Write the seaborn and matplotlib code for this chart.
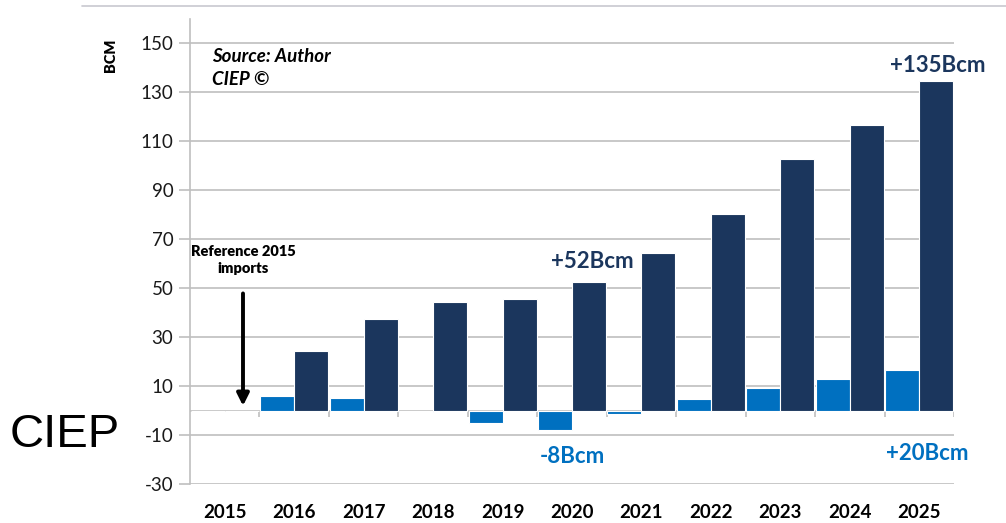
import matplotlib
matplotlib.use('Agg')
import matplotlib.pyplot as plt
import pandas as pd
import seaborn as sns

years = ['2015', '2016', '2017', '2018', '2019', '2020', '2021', '2022', '2023', '2024', '2025']
# yearly change vs 2015 (light) and cumulative import growth (dark)
change = [0, 5.8, 5.3, -0.7, -4.9, -8.0, -1.2, 4.9, 9.1, 12.7, 16.6]
imports = [0, 24.2, 37.6, 44.4, 45.4, 52.6, 64.5, 80.4, 102.9, 116.7, 134.7]
yticks = [-30, -10, 10, 30, 50, 70, 90, 110, 130, 150]

light = '#0070C0'
navy = '#1B365D'
grid_c = '#BFBFBF'

df = pd.DataFrame({'year': years * 2,
                   'bcm': change + imports,
                   'series': ['change'] * len(years) + ['imports'] * len(years)})

sns.set_style('white')
plt.rcParams['font.family'] = ['Lato', 'DejaVu Sans']
plt.rcParams['axes.unicode_minus'] = False
plt.rcParams['text.color'] = 'black'

fig = plt.figure(figsize=(10.06, 5.23), dpi=100)
ax = fig.add_axes([190 / 1006, 39 / 523, 764 / 1006, 465 / 523])

sns.barplot(data=df, x='year', y='bcm', hue='series', palette=[light, navy],
            saturation=1, width=0.98, edgecolor='white', linewidth=0.8,
            legend=False, ax=ax, zorder=3)

ax.set_ylim(-30, 160)
ax.set_xlim(-0.5, len(years) - 0.5)
ax.set_yticks(yticks)
ax.yaxis.grid(True, color=grid_c, linewidth=1.2, zorder=0)
ax.set_xlabel('')
ax.set_ylabel('')
for s in ['top', 'right', 'bottom']:
    ax.spines[s].set_visible(False)
ax.spines['left'].set_color(grid_c)
ax.spines['left'].set_linewidth(1.2)
ax.tick_params(axis='y', left=True, length=8, color=grid_c, width=1.2,
               labelsize=13.5, labelcolor='#1a1a1a', pad=4)
ax.tick_params(axis='x', bottom=False, labelsize=13.5, labelcolor='black', pad=11)
for lbl in ax.get_xticklabels():
    lbl.set_fontweight('bold')

# zero line with category tick marks
ax.axhline(0, color=grid_c, linewidth=1.2, zorder=2)
bounds = [i + 0.5 for i in range(len(years))]
ax.vlines(bounds, -2.8, 0, color=grid_c, linewidth=1.2, zorder=2)

fig.text(110 / 1006, 1 - 55 / 523, 'BCM', rotation=90, fontsize=10.5,
         fontweight='heavy', ha='center', va='center')
ax.text(-0.18, 140, 'Source: Author\nCIEP ©', fontsize=13.5, fontweight='bold',
        fontstyle='italic', ha='left', va='center', linespacing=1.45)

ax.text(0.263, 61.4, 'Reference 2015\nimports', fontsize=10.5, fontweight='heavy',
        ha='center', va='center', linespacing=1.35)
ax.annotate('', xy=(0.263, 0.8), xytext=(0.263, 49),
            arrowprops=dict(arrowstyle='-|>', color='black', lw=2.8,
                            mutation_scale=18))

ax.text(5.29, 60.8, '+52Bcm', fontsize=16, fontweight='bold', color=navy, ha='center', va='center')
ax.text(5.0, -18.8, '-8Bcm', fontsize=16, fontweight='bold', color=light, ha='center', va='center')
ax.text(10.11, -17.6, '+20Bcm', fontsize=16, fontweight='bold', color=light, ha='center', va='center')
ax.text(10.26, 141.2, '+135Bcm', fontsize=16, fontweight='bold', color=navy,
        ha='center', va='center', clip_on=False)

fig.text(10 / 1006, 1 - 435 / 523, 'CIEP', fontsize=34, family='Liberation Sans',
         ha='left', va='center', color='black')
fig.add_artist(plt.Line2D([82 / 1006, 1], [1 - 6 / 523] * 2, color='#C8C8D0', linewidth=1.2))

fig.savefig('out.png', dpi=100)
